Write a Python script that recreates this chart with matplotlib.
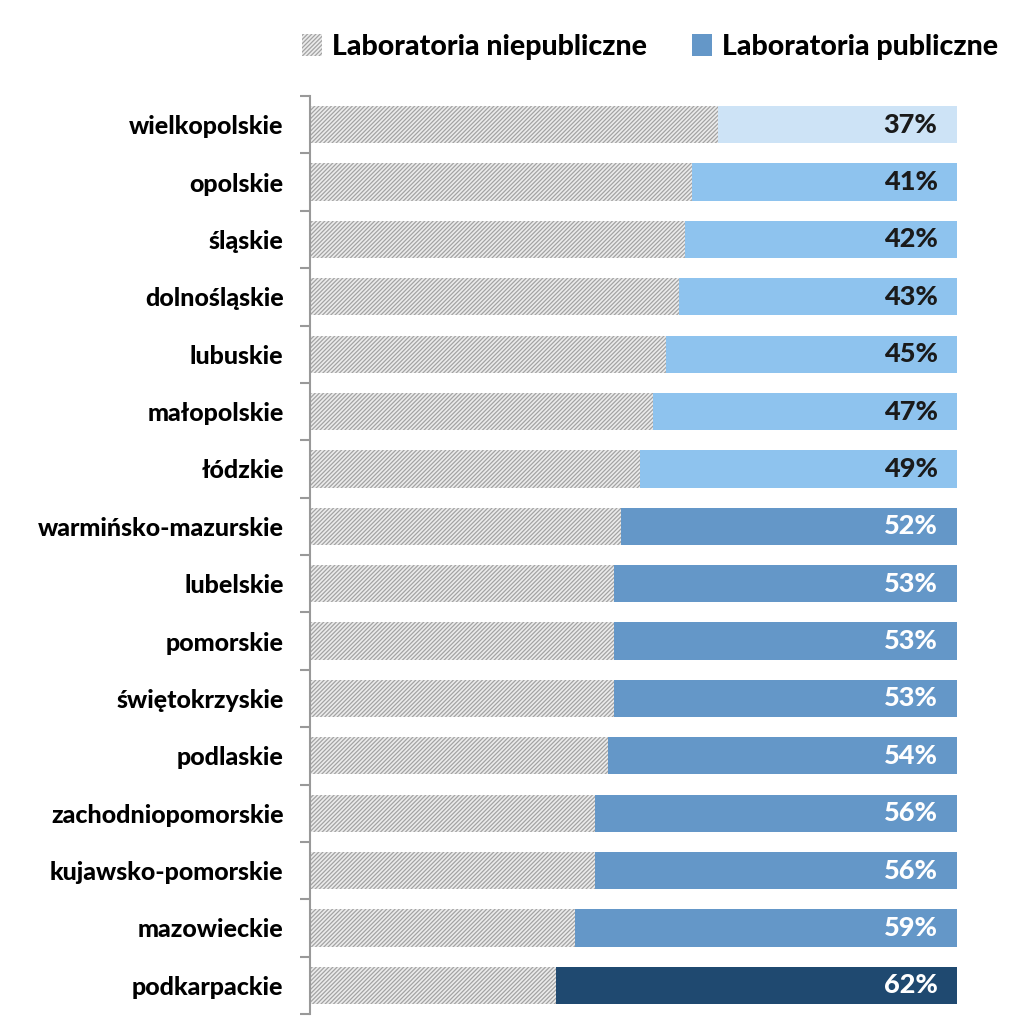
import matplotlib
matplotlib.use("Agg")
import matplotlib.pyplot as plt
from matplotlib.patches import Patch

plt.rcParams['font.family'] = ['Lato', 'DejaVu Sans']
plt.rcParams['hatch.linewidth'] = 0.9

regions = ['wielkopolskie', 'opolskie', 'śląskie', 'dolnośląskie', 'lubuskie',
           'małopolskie', 'łódzkie', 'warmińsko-mazurskie', 'lubelskie', 'pomorskie',
           'świętokrzyskie', 'podlaskie', 'zachodniopomorskie', 'kujawsko-pomorskie',
           'mazowieckie', 'podkarpackie']
public = [37, 41, 42, 43, 45, 47, 49, 52, 53, 53, 53, 54, 56, 56, 59, 62]
private = [100 - p for p in public]


def shade(v):
    if v < 40:
        return '#cde3f6'
    if v < 50:
        return '#8ec3ee'
    if v < 60:
        return '#6497c8'
    return '#1f4970'


fig = plt.figure(figsize=(10.24, 10.17), dpi=100)
ax = fig.add_axes([310 / 1024, 3 / 1017, 647 / 1024, 918 / 1017])

y = list(range(len(regions)))
ax.barh(y, private, height=0.65, color='#ececec', edgecolor='#a3a3a3',
        hatch='////////', linewidth=0)
ax.barh(y, public, left=private, height=0.65,
        color=[shade(v) for v in public], linewidth=0)

for yi, v in zip(y, public):
    ax.text(97, yi, f'{v}%', ha='right', va='center', fontsize=19.5, fontweight='black',
            color='#1a1a1a' if v < 50 else 'white')

ax.set_xlim(0, 100)
ax.set_ylim(len(regions) - 0.5, -0.5)
ax.set_yticks(y)
ax.set_yticklabels(regions, fontsize=18, fontweight='black')
ax.set_yticks([k + 0.5 for k in range(-1, len(regions))], minor=True)
ax.tick_params(axis='y', which='major', length=0, pad=19)
ax.tick_params(axis='y', which='minor', length=7, color='#999999', width=1.5)
ax.set_xticks([])
for s in ['top', 'right', 'bottom']:
    ax.spines[s].set_visible(False)
ax.spines['left'].set_color('#999999')
ax.spines['left'].set_linewidth(1.5)

handles = [Patch(facecolor='#ececec', edgecolor='#a3a3a3', hatch='////////', linewidth=0,
                 label='Laboratoria niepubliczne'),
           Patch(facecolor='#6497c8', linewidth=0, label='Laboratoria publiczne')]
fig.legend(handles=handles, loc='center', bbox_to_anchor=(0.635, 0.954), ncol=2,
           frameon=False, prop={'size': 20.5, 'weight': 'black'},
           handlelength=0.7, handleheight=0.85, handletextpad=0.35, columnspacing=1.6)

fig.savefig('out.png', dpi=100)
